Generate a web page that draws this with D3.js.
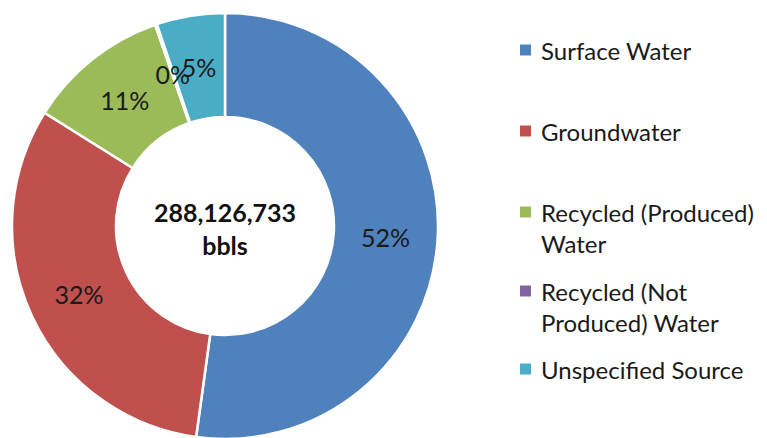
<!DOCTYPE html>
<html>
<head>
<meta charset="utf-8">
<script src="https://cdn.jsdelivr.net/npm/d3@7"></script>
<style>
  html, body { margin: 0; padding: 0; background: #fff; }
  svg { display: block; font-family: Lato, "Open Sans", sans-serif; }
</style>
</head>
<body>
<svg id="chart" width="767" height="438"></svg>
<script>
// Water source breakdown (barrels)
const sources = ["Surface Water", "Groundwater", "Recycled (Produced) Water", "Recycled (Not Produced) Water", "Unspecified Source"];
const volumes = [150300000, 91500000, 31000000, 400000, 14926733];
const colors = ["#4F81BD", "#C0504D", "#9BBB59", "#8064A2", "#4BACC6"];
// Legend entries wrap onto two lines where needed
const legendLines = [["Surface Water"], ["Groundwater"], ["Recycled (Produced)", "Water"], ["Recycled (Not", "Produced) Water"], ["Unspecified Source"]];
const totalLabel = ["288,126,733", "bbls"];

const svg = d3.select("#chart");
const cx = 225, cy = 226, outerR = 213, innerR = 109;

const total = d3.sum(volumes);
const data = sources.map((s, i) => ({ name: s, value: volumes[i], color: colors[i] }));

const pie = d3.pie().value(d => d.value).sort(null);
const arc = d3.arc().innerRadius(innerR).outerRadius(outerR);
const arcs = pie(data);

const g = svg.append("g").attr("transform", `translate(${cx},${cy})`);

g.selectAll("path.slice")
  .data(arcs)
  .join("path")
  .attr("class", "slice")
  .attr("d", arc)
  .attr("fill", d => d.data.color)
  .attr("stroke", "#fff")
  .attr("stroke-width", 2.5)
  .attr("stroke-linejoin", "miter");

// Percentage labels at the middle of each ring segment
const pct = d3.format(".0%");
g.selectAll("text.pct")
  .data(arcs)
  .join("text")
  .attr("class", "pct")
  .attr("transform", d => `translate(${arc.centroid(d)})`)
  .attr("text-anchor", "middle")
  .attr("dominant-baseline", "central")
  .attr("font-size", 25)
  .attr("fill", "#1a1a1a")
  .text(d => pct(d.data.value / total));

// Total in the hole
g.selectAll("text.total")
  .data(totalLabel)
  .join("text")
  .attr("class", "total")
  .attr("x", 0)
  .attr("y", (d, i) => -14 + i * 33)
  .attr("text-anchor", "middle")
  .attr("dominant-baseline", "central")
  .attr("font-size", 25)
  .attr("font-weight", "bold")
  .attr("fill", "#111")
  .text(d => d);

// Legend
const lineH = 31;
const rowTops = [50, 131, 212, 291, 369];
const legend = svg.append("g").attr("class", "legend");
sources.forEach((s, i) => {
  const row = legend.append("g").attr("transform", `translate(0,${rowTops[i]})`);
  row.append("rect")
    .attr("x", 520).attr("y", -5.5)
    .attr("width", 11).attr("height", 11)
    .attr("fill", colors[i]);
  legendLines[i].forEach((t, j) => {
    row.append("text")
      .attr("x", 541)
      .attr("y", j * lineH)
      .attr("dominant-baseline", "central")
      .attr("font-size", 24)
      .attr("fill", "#1a1a1a")
      .text(t);
  });
});
</script>
</body>
</html>
